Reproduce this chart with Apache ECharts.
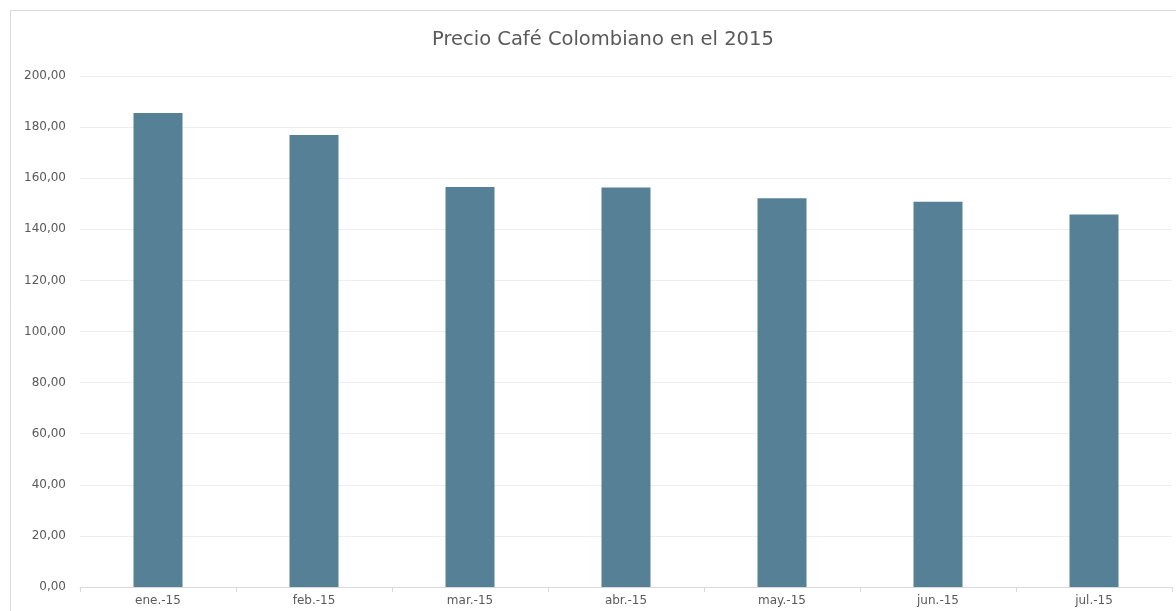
<!DOCTYPE html>
<html><head><meta charset="utf-8">
<script src="https://cdn.jsdelivr.net/npm/echarts@6/dist/echarts.min.js"></script>
<style>html,body{margin:0;padding:0;background:#fff}#c{width:1176px;height:611px}</style>
</head><body><div id="c"></div>
<script>
const categories = ['ene.-15','feb.-15','mar.-15','abr.-15','may.-15','jun.-15','jul.-15'];
const precios = [185.5, 176.9, 156.6, 156.4, 152.2, 150.8, 145.8];
const titulo = 'Precio Café Colombiano en el 2015';

const chart = echarts.init(document.getElementById('c'));
chart.setOption({
  animation: false,
  backgroundColor: '#ffffff',
  graphic: [{
    type: 'rect', shape: {x: 10.5, y: 10.5, width: 1200, height: 700},
    style: {fill: 'none', stroke: '#d9d9d9', lineWidth: 1}, silent: true
  }],
  title: {
    text: titulo, left: 427, top: 25,
    textStyle: {fontFamily: 'DejaVu Sans', fontSize: 19.5, fontWeight: 'normal', color: '#595959'}
  },
  grid: {left: 80, right: 4, top: 76, bottom: 24, containLabel: false},
  xAxis: {
    type: 'category', data: categories,
    axisLine: {lineStyle: {color: '#d9d9d9'}},
    axisTick: {show: true, length: 5, lineStyle: {color: '#d9d9d9'}},
    axisLabel: {fontFamily: 'DejaVu Sans', fontSize: 12, color: '#595959', margin: 8}
  },
  yAxis: {
    type: 'value', min: 0, max: 200, interval: 20,
    axisLine: {show: false}, axisTick: {show: false},
    splitLine: {lineStyle: {color: '#eeeeee'}},
    axisLabel: {fontFamily: 'DejaVu Sans', fontSize: 12, color: '#595959', margin: 14,
      formatter: v => v.toFixed(2).replace('.', ',')}
  },
  series: [{
    type: 'bar', data: precios, barWidth: 49,
    itemStyle: {color: '#558096'}
  }]
});
</script></body></html>
